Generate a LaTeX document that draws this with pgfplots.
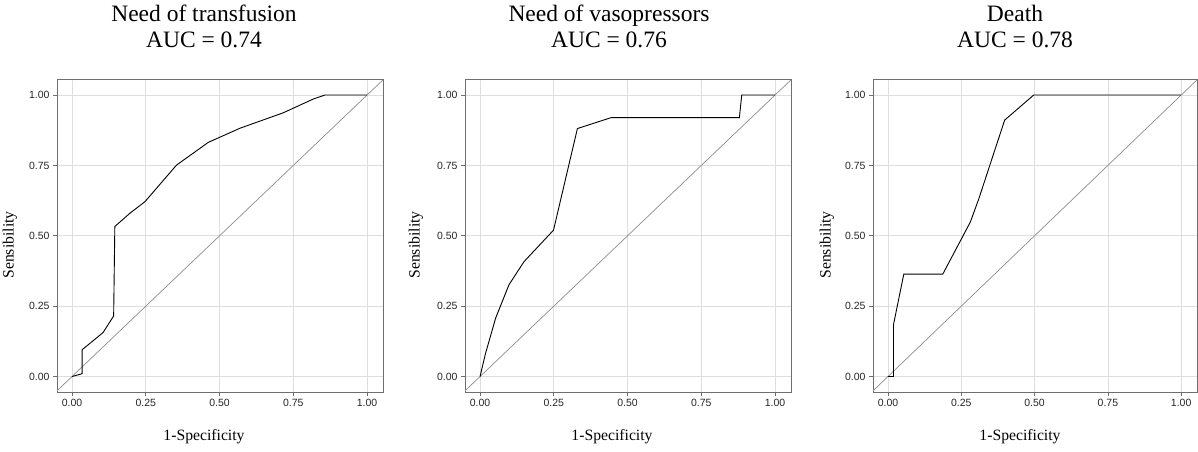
\documentclass[border=0pt]{standalone}
\usepackage{fontspec}
\setmainfont{Liberation Serif}
\newfontfamily\ticksf{Liberation Sans}
\usepackage{pgfplots}
\pgfplotsset{compat=1.18}

\definecolor{axisgray}{RGB}{110,110,110}
\definecolor{gridgray}{RGB}{222,222,222}
\definecolor{diaggray}{RGB}{140,140,140}

\pgfplotsset{
  roc/.style={
    anchor=south west,
    scale only axis,
    width=326pt, height=313pt,
    xmin=-0.051, xmax=1.054,
    ymin=-0.055, ymax=1.057,
    xtick={0,0.25,0.5,0.75,1},
    ytick={0,0.25,0.5,0.75,1},
    grid=major,
    grid style={gridgray, line width=0.7pt},
    axis line style={axisgray, line width=0.9pt},
    tick align=outside,
    tick pos=left,
    major tick length=4pt,
    tick style={axisgray, line width=0.7pt},
    /pgf/number format/assume math mode=true,
    /pgf/number format/fixed,
    /pgf/number format/fixed zerofill,
    /pgf/number format/precision=2,
    tick label style={font=\ticksf\fontsize{10.5}{12}\selectfont, text=black!85},
  },
  diag/.style={diaggray, line width=0.7pt},
  curve/.style={black, line width=0.9pt},
}

\begin{document}
\begin{tikzpicture}
\path[use as bounding box] (0pt,0pt) rectangle (1198pt,451pt);

% Need of transfusion
\begin{axis}[roc, at={(57pt,59pt)}]
\addplot[diag] coordinates {(-0.2,-0.2) (1.2,1.2)};
\addplot[curve] coordinates {
 (0,0) (0.034,0.010) (0.034,0.095) (0.105,0.156) (0.141,0.215)
 (0.145,0.533) (0.196,0.580) (0.247,0.621) (0.354,0.751)
 (0.462,0.832) (0.569,0.882) (0.716,0.937) (0.818,0.986)
 (0.857,1.0) (1,1)};
\end{axis}

% Need of vasopressors
\begin{axis}[roc, at={(465pt,59pt)}]
\addplot[diag] coordinates {(-0.2,-0.2) (1.2,1.2)};
\addplot[curve] coordinates {
 (0,0) (0.018,0.080) (0.053,0.208) (0.098,0.326) (0.149,0.408)
 (0.249,0.520) (0.330,0.881) (0.445,0.920) (0.879,0.920)
 (0.887,1.0) (1,1)};
\end{axis}

% Death
\begin{axis}[roc, at={(873pt,59pt)}, width=324pt]
\addplot[diag] coordinates {(-0.2,-0.2) (1.2,1.2)};
\addplot[curve] coordinates {
 (0,0) (0.019,0) (0.019,0.185) (0.054,0.364) (0.187,0.364)
 (0.281,0.549) (0.310,0.632) (0.398,0.911) (0.497,1.0) (1,1)};
\end{axis}

% titles
\foreach \cx/\ta/\tb in {204/Need of transfusion/AUC = 0.74, 609/Need of vasopressors/AUC = 0.76, 1015/Death/AUC = 0.78}{
  \node[anchor=base, inner sep=0pt, font=\fontsize{23.5}{28}\selectfont] at (\cx pt,429pt) {\ta};
  \node[anchor=base, inner sep=0pt, font=\fontsize{23.5}{28}\selectfont] at (\cx pt,403pt) {\tb};
}
% x labels
\foreach \cx in {204,612,1020}{
  \node[anchor=base, inner sep=0pt, font=\fontsize{15.7}{18}\selectfont] at (\cx pt,10.5pt) {1-Specificity};
}
% y labels
\foreach \cx in {13.5,419.5,830.5}{
  \node[anchor=base, rotate=90, inner sep=0pt, font=\fontsize{15.7}{18}\selectfont] at (\cx pt,206pt) {Sensibility};
}
\end{tikzpicture}
\end{document}
